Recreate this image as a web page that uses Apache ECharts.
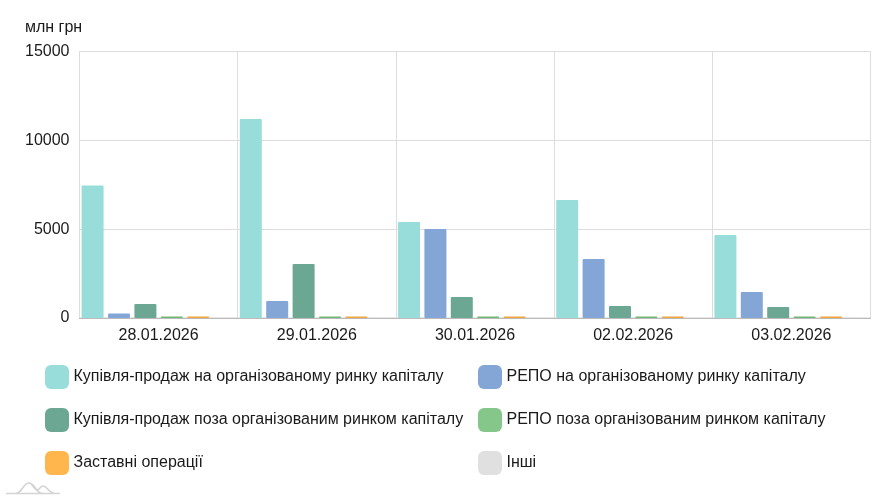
<!DOCTYPE html>
<html><head><meta charset="utf-8">
<style>html,body{margin:0;padding:0;background:#fff}#c{width:891px;height:500px}</style>
<script src="https://cdn.jsdelivr.net/npm/echarts@6/dist/echarts.min.js"></script>
</head><body><div id="c"></div>
<script>
const categories = ['28.01.2026','29.01.2026','30.01.2026','02.02.2026','03.02.2026'];
const yTicks = {min:0,max:15000,interval:5000};
const unitLabel = 'млн грн';
const names = ['Купівля-продаж на організованому ринку капіталу','РЕПО на організованому ринку капіталу','Купівля-продаж поза організованим ринком капіталу','РЕПО поза організованим ринком капіталу','Заставні операції','Інші'];
const spotOrg = [7460,11200,5400,6640,4670];
const repoOrg = [250,960,5010,3320,1460];
const spotOtc = [790,3040,1180,680,620];
const repoOtc = [25,25,25,25,25];
const pledge = [25,25,25,25,25];
const other = [0,0,0,0,0];
const colors = ['#99DDDB','#84A6D6','#6BA793','#85C78A','#FFB74D','#E0E0E0'];
const barColors = ['#99DDDB','#84A6D6','#6BA793','#6DB874','#F0A63C','#E0E0E0'];
const minHeights = [0,0,0,1.5,1.5,0];
const values = [spotOrg,repoOrg,spotOtc,repoOtc,pledge,other];
const font = '"Liberation Sans", Arial, sans-serif';
const legendItem = i => ({name:names[i],itemStyle:{color:colors[i]}});
const legendBase = {orient:'vertical',top:365,itemWidth:24,itemHeight:24,itemGap:19,icon:'roundRect',padding:0,
  textStyle:{fontFamily:font,fontSize:16,color:'#1a1a1a',padding:[0,0,0,-0.5]}};
const logoStyle = {fill:null,stroke:'#d4d4d4',lineWidth:1.6};
const chart = echarts.init(document.getElementById('c'),null,{renderer:'canvas'});
chart.setOption({
  animation:false,
  color:colors,
  textStyle:{fontFamily:font},
  grid:{left:79.5,right:20.5,top:51.5,bottom:182,show:true,borderColor:'#ccc',borderWidth:1,backgroundColor:'transparent'},
  title:{text:unitLabel,left:25,top:19.5,padding:0,textStyle:{fontFamily:font,fontSize:16,fontWeight:'normal',color:'#1a1a1a'}},
  legend:[
    Object.assign({},legendBase,{left:45,data:[legendItem(0),legendItem(2),legendItem(4)]}),
    Object.assign({},legendBase,{left:478,data:[legendItem(1),legendItem(3),legendItem(5)]})
  ],
  xAxis:{type:'category',data:categories,boundaryGap:true,
    axisLine:{lineStyle:{color:'#bbb'}},axisTick:{show:false},
    splitLine:{show:true,lineStyle:{color:'#ddd'}},
    axisLabel:{fontFamily:font,fontSize:16,color:'#1a1a1a',margin:10}},
  yAxis:{type:'value',min:yTicks.min,max:yTicks.max,interval:yTicks.interval,
    axisLine:{show:false},axisTick:{show:false},
    splitLine:{lineStyle:{color:'#ddd'}},
    axisLabel:{fontFamily:font,fontSize:16,color:'#1a1a1a',margin:10,formatter:v=>String(v)}},
  series:names.map((n,i)=>({name:n,type:'bar',z:5,data:values[i],barWidth:22,barGap:'20%',barMinHeight:minHeights[i],
    itemStyle:{color:barColors[i],borderRadius:1}})),
  graphic:[
    {type:'line',silent:true,shape:{x1:6,y1:493.5,x2:60,y2:493.5},style:logoStyle},
    {type:'bezierCurve',silent:true,shape:{x1:16,y1:493.5,cpx1:23,cpy1:492,cpx2:23,cpy2:483,x2:29,y2:483},style:logoStyle},
    {type:'bezierCurve',silent:true,shape:{x1:29,y1:483,cpx1:35,cpy1:483,cpx2:35,cpy2:492,x2:42,y2:493.5},style:logoStyle},
    {type:'bezierCurve',silent:true,shape:{x1:31,y1:484,cpx1:34,cpy1:487,cpx2:35,cpy2:490,x2:37,y2:490},style:logoStyle},
    {type:'bezierCurve',silent:true,shape:{x1:37,y1:490,cpx1:40,cpy1:490,cpx2:40,cpy2:486,x2:43,y2:486},style:logoStyle},
    {type:'bezierCurve',silent:true,shape:{x1:43,y1:486,cpx1:47,cpy1:486,cpx2:48,cpy2:492,x2:54,y2:493.5},style:logoStyle}
  ]
});
</script></body></html>
